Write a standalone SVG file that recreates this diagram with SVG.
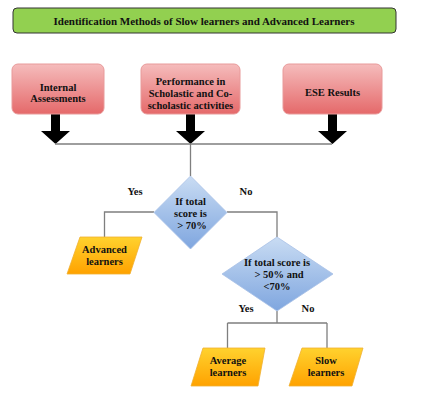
<svg xmlns="http://www.w3.org/2000/svg" width="425" height="406" viewBox="0 0 425 406">
<defs>
<linearGradient id="gRed" x1="0" y1="0" x2="0" y2="1"><stop offset="0" stop-color="#f5bcbc"/><stop offset="1" stop-color="#e5696a"/></linearGradient>
<linearGradient id="gBlue" x1="0" y1="0" x2="0" y2="1"><stop offset="0" stop-color="#c9dcf3"/><stop offset="1" stop-color="#7fa6df"/></linearGradient>
<linearGradient id="gOr" x1="0" y1="0" x2="0" y2="1"><stop offset="0" stop-color="#ffd22e"/><stop offset="1" stop-color="#ffa200"/></linearGradient>
<style>
text{font-family:"Liberation Serif","Times New Roman",serif;font-weight:bold;font-size:10.5px;fill:#111;text-anchor:middle}
.red{fill:url(#gRed);stroke:#e89a9a;stroke-width:1}
.dia{fill:url(#gBlue);stroke:#a8c0e6;stroke-width:0.8}
.par{fill:url(#gOr);stroke:#f0b030;stroke-width:0.8}
.ln{fill:none;stroke:#7f7f7f;stroke-width:1.3}
.arr{fill:#000}
</style>
</defs>
<rect width="425" height="406" fill="#fff"/>
<g id="title">
<rect x="13" y="8" width="383" height="25" rx="4" fill="#92d050" stroke="#333" stroke-width="1"/>
<text x="204" y="24.5" style="font-size:11px">Identification Methods of Slow learners and Advanced Learners</text>
</g>
<g id="connectors">
<path class="arr" d="M51 114h9v17h10l-14.5 13l-14.5-13h10z"/>
<path class="arr" d="M186 114h9v17h10l-14.5 13l-14.5-13h10z"/>
<path class="arr" d="M328 114h9v17h10l-14.5 13l-14.5-13h10z"/>
<path class="ln" d="M55 144H332M190.5 144V176"/>
<path class="ln" d="M154 212H104.5V237M227 212H277V237"/>
<path class="ln" d="M277 311V323M227.5 323H327M227.5 323V348M327 323V348"/>
</g>
<g id="internal">
<rect class="red" x="12" y="64" width="92" height="50" rx="6"/>
<text x="58" y="91">Internal</text><text x="58" y="102">Assessments</text>
</g>
<g id="performance">
<rect class="red" x="141" y="64" width="99" height="50" rx="6"/>
<text x="190.5" y="85">Performance in</text><text x="190.5" y="97">Scholastic and Co-</text><text x="190.5" y="109">scholastic activities</text>
</g>
<g id="ese">
<rect class="red" x="283" y="64" width="99" height="50" rx="6"/>
<text x="332.5" y="96">ESE Results</text>
</g>
<g id="decision1">
<path class="dia" d="M190.5 176L227 212.5L190.5 249L154 212.5z"/>
<text x="190.5" y="205">If total</text><text x="190.5" y="217">score is</text><text x="192" y="229">&gt; 70%</text>
</g>
<text x="135" y="195">Yes</text>
<text x="246" y="195">No</text>
<g id="advanced">
<path class="par" d="M80 237H142L130 274H67z"/>
<text x="104.5" y="253">Advanced</text><text x="104.5" y="265">learners</text>
</g>
<g id="decision2">
<path class="dia" d="M277 237L333 274L277 311L222 274z"/>
<text x="277" y="266">If total score is</text><text x="279" y="278">&gt; 50% and</text><text x="277" y="290">&lt;70%</text>
</g>
<text x="246" y="312">Yes</text>
<text x="308" y="312">No</text>
<g id="average">
<path class="par" d="M203 348H265L258 386H191z"/>
<text x="228" y="364">Average</text><text x="228" y="376">learners</text>
</g>
<g id="slow">
<path class="par" d="M302 348H363L352 386H289z"/>
<text x="326" y="364">Slow</text><text x="326" y="376">learners</text>
</g>
</svg>
